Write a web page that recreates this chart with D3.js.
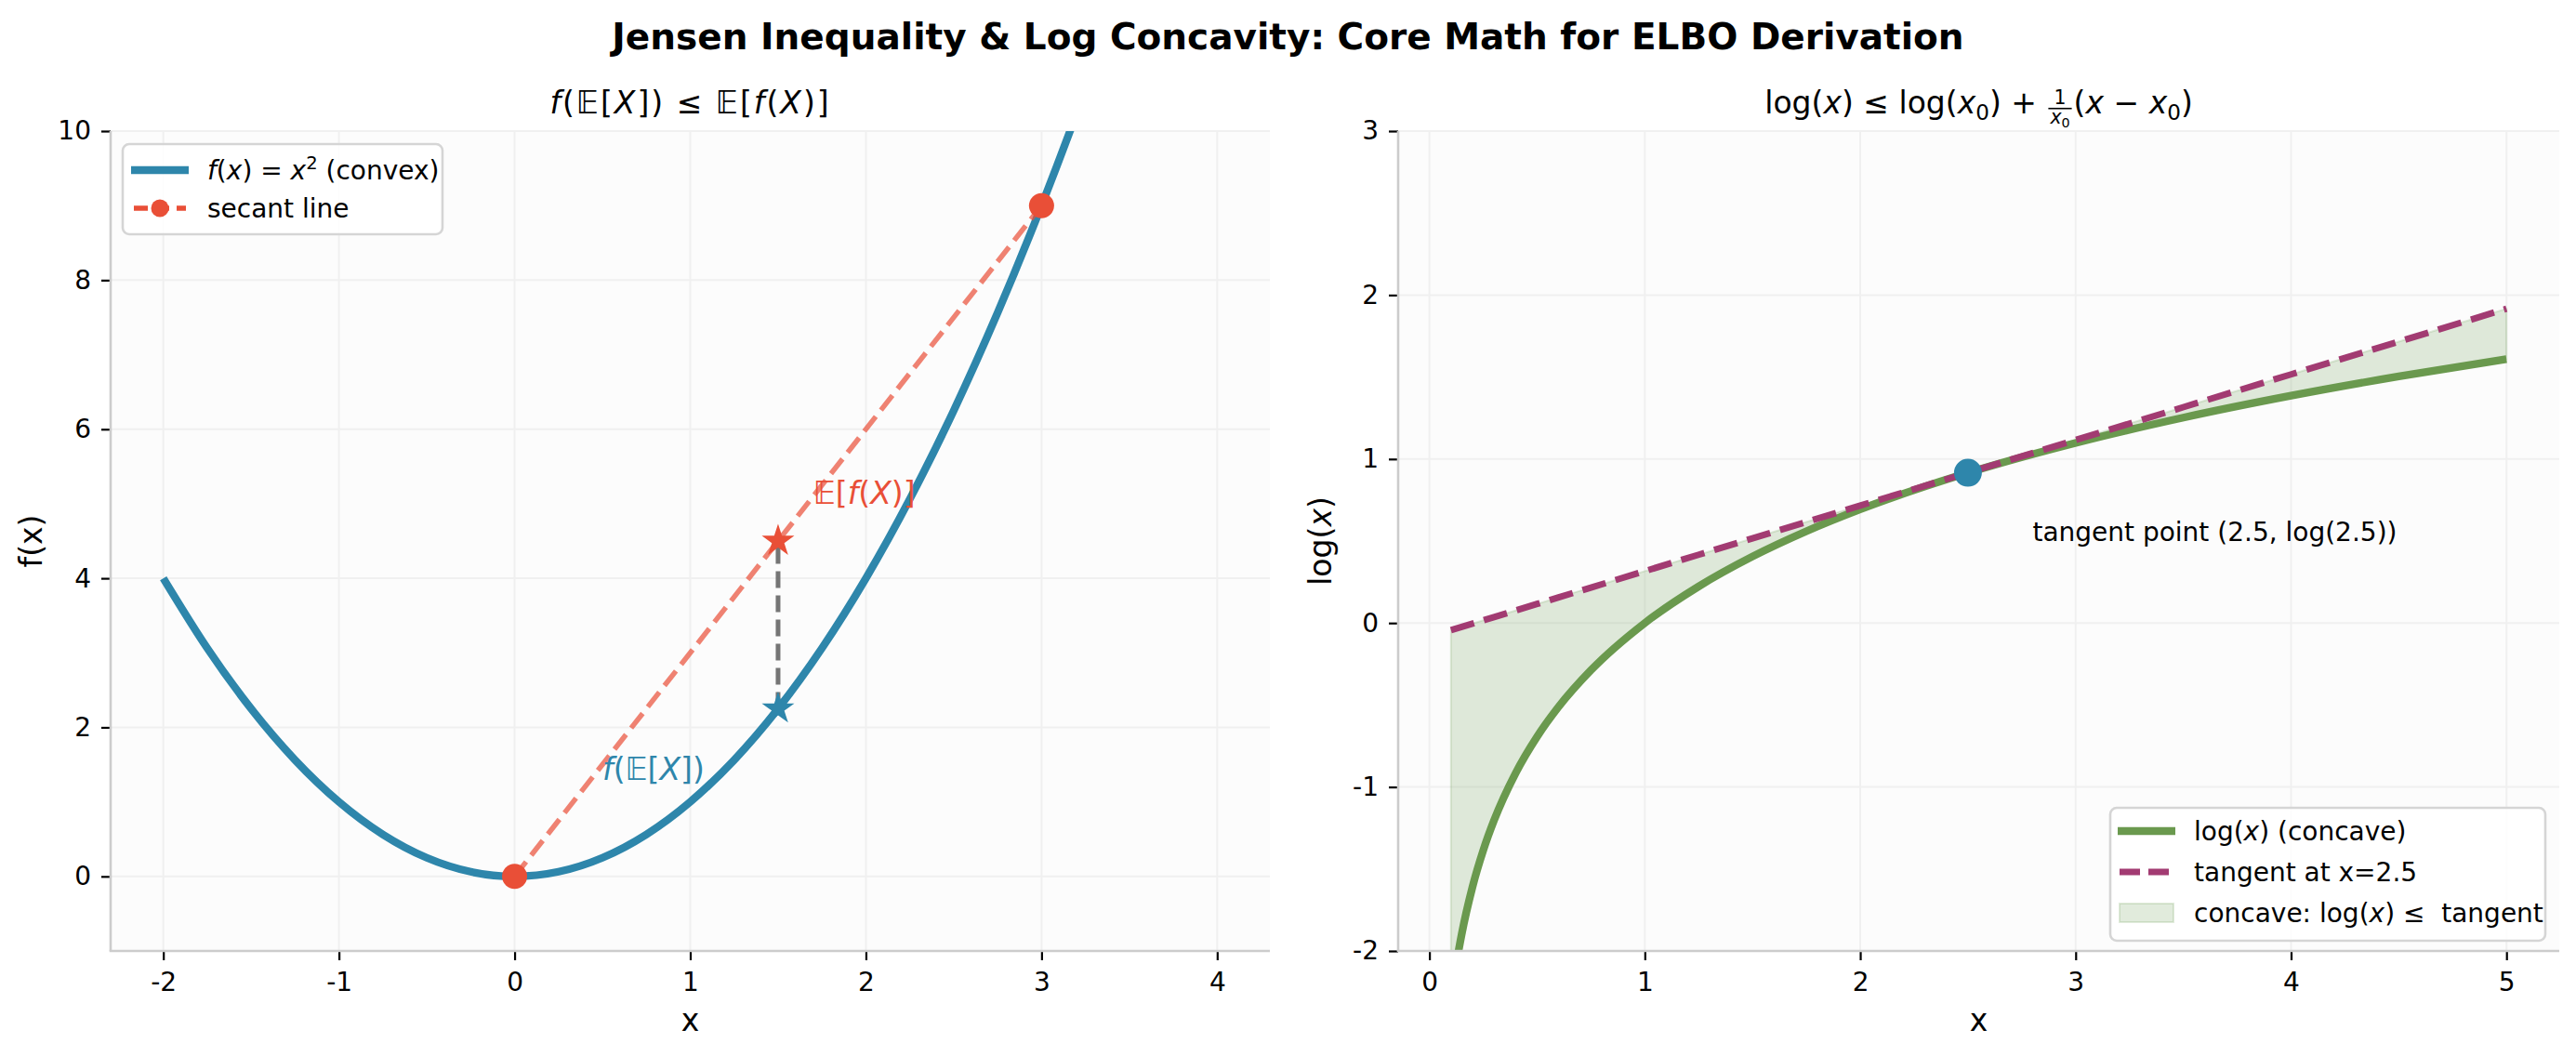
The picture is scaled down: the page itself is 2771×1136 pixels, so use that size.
<!DOCTYPE html>
<html>
<head>
<meta charset="utf-8">
<title>Jensen Inequality & Log Concavity</title>
<script src="https://d3js.org/d3.v7.min.js"></script>
<style>
  body { margin: 0; background: #fff; }
  svg text { font-family: "DejaVu Sans", sans-serif; }
</style>
</head>
<body>
<div id="chart"></div>
<script>
// ---------- data ----------
// left panel : f(x) = x^2 sampled
const parabolaX = [-2, -1.75, -1.5, -1.25, -1, -0.75, -0.5, -0.25, 0, 0.25, 0.5, 0.75, 1,
                   1.25, 1.5, 1.75, 2, 2.25, 2.5, 2.75, 3, 3.25, 3.5, 3.75, 4];
const parabolaY = [4, 3.0625, 2.25, 1.5625, 1, 0.5625, 0.25, 0.0625, 0, 0.0625, 0.25, 0.5625, 1,
                   1.5625, 2.25, 3.0625, 4, 5.0625, 6.25, 7.5625, 9, 10.5625, 12.25, 14.0625, 16];
const secantX = [0, 3];
const secantY = [0, 9];
const meanX = 1.5;
const fOfMean = 2.25;     // f(E[X])
const meanOfF = 4.5;      // E[f(X)]

// right panel : log(x) and its tangent at x0 = 2.5
const logX = [0.1, 0.125, 0.15, 0.2, 0.25, 0.3, 0.4, 0.5, 0.6, 0.75, 1, 1.25, 1.5, 1.75, 2,
              2.5, 3, 3.5, 4, 4.5, 5];
const logY = [-2.3026, -2.0794, -1.8971, -1.6094, -1.3863, -1.2040, -0.9163, -0.6931, -0.5108,
              -0.2877, 0, 0.2231, 0.4055, 0.5596, 0.6931, 0.9163, 1.0986, 1.2528, 1.3863, 1.5041, 1.6094];
const tangentY = [-0.0437, -0.0337, -0.0237, -0.0037, 0.0163, 0.0363, 0.0763, 0.1163, 0.1563,
                  0.2163, 0.3163, 0.4163, 0.5163, 0.6163, 0.7163, 0.9163, 1.1163, 1.3163, 1.5163,
                  1.7163, 1.9163];
const tangentPoint = [2.5, 0.9163];

// ticks
const leftXTicks = [-2, -1, 0, 1, 2, 3, 4];
const leftYTicks = [0, 2, 4, 6, 8, 10];
const rightXTicks = [0, 1, 2, 3, 4, 5];
const rightYTicks = [-2, -1, 0, 1, 2, 3];

// ---------- setup ----------
const W = 2771, H = 1136;
const BLUE = "#2E86AB", RED = "#E94F37", GREEN = "#6A994E", PURPLE = "#A23B72";
const E = "\u{1D53C}";

const svg = d3.select("#chart").append("svg")
    .attr("width", W).attr("height", H);
svg.append("rect").attr("width", W).attr("height", H).attr("fill", "#fff");

const leftBox = { x0: 119, x1: 1366, y0: 141, y1: 1023 };
const rightBox = { x0: 1504, x1: 2753, y0: 141, y1: 1023 };

function fmt(d) { return d < 0 ? "-" + Math.abs(d) : String(d); }

// rich text: chunks are arrays of segments {t, it, sub, sup} or {frac:[numSegs, denSegs]}
function addSegs(text, segs, size) {
  let off = 0;
  segs.forEach(s => {
    const ts = text.append("tspan").text(s.t);
    if (s.it) ts.attr("font-style", "italic");
    let target = 0, fs = size;
    if (s.sub) { target = size * 0.22; fs = size * 0.7; }
    if (s.sup) { target = -size * 0.4; fs = size * 0.7; }
    ts.attr("font-size", fs);
    if (target - off !== 0) ts.attr("dy", target - off);
    off = target;
  });
}

function richText(parent, x, y, chunks, size, fill, anchor, spacing) {
  const g = parent.append("g");
  let cx = 0;
  chunks.forEach(ch => {
    if (ch.frac) {
      const fs = size * 0.62;
      const num = g.append("text").attr("font-size", fs).attr("fill", fill)
          .attr("text-anchor", "middle").attr("y", -size * 0.3);
      addSegs(num, ch.frac[0], fs);
      const den = g.append("text").attr("font-size", fs).attr("fill", fill)
          .attr("text-anchor", "middle").attr("y", size * 0.33);
      addSegs(den, ch.frac[1], fs);
      const w = Math.max(num.node().getComputedTextLength(), den.node().getComputedTextLength()) + 4;
      num.attr("x", cx + w / 2 + 2);
      den.attr("x", cx + w / 2 + 2);
      g.append("line").attr("x1", cx + 2).attr("x2", cx + w + 2)
          .attr("y1", -size * 0.16).attr("y2", -size * 0.16)
          .attr("stroke", fill).attr("stroke-width", 1.6);
      cx += w + 4;
    } else {
      const t = g.append("text").attr("x", cx).attr("font-size", size).attr("fill", fill)
          .attr("xml:space", "preserve").style("white-space", "pre");
      if (spacing) t.attr("letter-spacing", spacing);
      addSegs(t, ch, size);
      cx += t.node().getComputedTextLength();
    }
  });
  const shift = anchor === "middle" ? -cx / 2 : 0;
  g.attr("transform", `translate(${x + shift},${y})`);
  return g;
}

function makePanel(box, xDomain, yDomain, xTicks, yTicks, id) {
  const x = d3.scaleLinear().domain(xDomain).range([box.x0, box.x1]);
  const y = d3.scaleLinear().domain(yDomain).range([box.y1, box.y0]);
  svg.append("rect").attr("x", box.x0).attr("y", box.y0)
      .attr("width", box.x1 - box.x0).attr("height", box.y1 - box.y0)
      .attr("fill", "#fcfcfc");
  svg.append("clipPath").attr("id", id).append("rect")
      .attr("x", box.x0).attr("y", box.y0)
      .attr("width", box.x1 - box.x0).attr("height", box.y1 - box.y0);
  const grid = svg.append("g");
  grid.selectAll(".gx").data(xTicks).enter().append("line")
      .attr("x1", d => x(d)).attr("x2", d => x(d))
      .attr("y1", box.y0).attr("y2", box.y1)
      .attr("stroke", "#f0f0f0").attr("stroke-width", 2);
  grid.selectAll(".gy").data(yTicks).enter().append("line")
      .attr("x1", box.x0).attr("x2", box.x1)
      .attr("y1", d => y(d)).attr("y2", d => y(d))
      .attr("stroke", "#f0f0f0").attr("stroke-width", 2);
  const plot = svg.append("g").attr("clip-path", `url(#${id})`);
  return { x, y, plot };
}

function drawAxes(box, x, y, xTicks, yTicks) {
  const gx = svg.append("g").attr("transform", `translate(0,${box.y1})`)
      .call(d3.axisBottom(x).tickValues(xTicks).tickFormat(fmt).tickSize(10).tickPadding(13));
  const gy = svg.append("g").attr("transform", `translate(${box.x0},0)`)
      .call(d3.axisLeft(y).tickValues(yTicks).tickFormat(fmt).tickSize(10).tickPadding(11));
  [gx, gy].forEach(g => {
    g.select(".domain").remove();
    g.selectAll(".tick line").attr("stroke", "#000").attr("stroke-width", 2.2);
    g.selectAll(".tick text").attr("font-size", 28).attr("fill", "#000")
        .attr("font-family", "DejaVu Sans");
  });
  // spines
  svg.append("line").attr("x1", box.x0).attr("x2", box.x0).attr("y1", box.y0).attr("y2", box.y1)
      .attr("stroke", "#cccccc").attr("stroke-width", 2.6);
  svg.append("line").attr("x1", box.x0 - 1.3).attr("x2", box.x1).attr("y1", box.y1).attr("y2", box.y1)
      .attr("stroke", "#cccccc").attr("stroke-width", 2.6);
}

// ---------- title ----------
svg.append("text").attr("x", W / 2).attr("y", 53).attr("text-anchor", "middle")
    .attr("font-size", 39).attr("font-weight", "bold")
    .text("Jensen Inequality & Log Concavity: Core Math for ELBO Derivation");

// ---------- left panel ----------
const L = makePanel(leftBox, [-2.3, 4.3], [-1, 10], leftXTicks, leftYTicks, "clipL");
const parab = parabolaX.map((d, i) => [d, parabolaY[i]]);

L.plot.append("path").datum(parab)
    .attr("d", d3.line().x(d => L.x(d[0])).y(d => L.y(d[1])).curve(d3.curveMonotoneX))
    .attr("fill", "none").attr("stroke", BLUE).attr("stroke-width", 8.3);

L.plot.append("line")
    .attr("x1", L.x(secantX[0])).attr("y1", L.y(secantY[0]))
    .attr("x2", L.x(secantX[1])).attr("y2", L.y(secantY[1]))
    .attr("stroke", RED).attr("stroke-opacity", 0.7).attr("stroke-width", 5.5)
    .attr("stroke-dasharray", "20,9");

L.plot.append("line")
    .attr("x1", L.x(meanX)).attr("x2", L.x(meanX))
    .attr("y1", L.y(fOfMean)).attr("y2", L.y(meanOfF))
    .attr("stroke", "#666").attr("stroke-opacity", 0.9).attr("stroke-width", 5)
    .attr("stroke-dasharray", "18,8");

L.plot.selectAll(".end").data(secantX).enter().append("circle")
    .attr("cx", d => L.x(d)).attr("cy", (d, i) => L.y(secantY[i]))
    .attr("r", 13.5).attr("fill", RED);

const star = d3.symbol().type(d3.symbolStar).size(380);
L.plot.append("path").attr("d", star)
    .attr("transform", `translate(${L.x(meanX)},${L.y(meanOfF)})`).attr("fill", RED);
L.plot.append("path").attr("d", star)
    .attr("transform", `translate(${L.x(meanX)},${L.y(fOfMean)})`).attr("fill", BLUE);

richText(svg, L.x(1.7), L.y(5.0),
    [[{ t: E + "[" }, { t: "f", it: true }, { t: "(" }, { t: "X", it: true }, { t: ")]" }]], 33, RED);
richText(svg, L.x(0.5), L.y(1.3),
    [[{ t: "f", it: true }, { t: "(" + E + "[" }, { t: "X", it: true }, { t: "])" }]], 33, BLUE);

drawAxes(leftBox, L.x, L.y, leftXTicks, leftYTicks);

richText(svg, (leftBox.x0 + leftBox.x1) / 2, 122,
    [[{ t: "f", it: true }, { t: "(" + E + "[" }, { t: "X", it: true }, { t: "]) \u2264 " + E + "[" },
      { t: "f", it: true }, { t: "(" }, { t: "X", it: true }, { t: ")]" }]], 33, "#000", "middle", 2);

svg.append("text").attr("x", (leftBox.x0 + leftBox.x1) / 2).attr("y", 1109)
    .attr("text-anchor", "middle").attr("font-size", 33).text("x");
svg.append("text").attr("transform", `translate(45,${(leftBox.y0 + leftBox.y1) / 2}) rotate(-90)`)
    .attr("text-anchor", "middle").attr("font-size", 33).text("f(x)");

// left legend
const lg = svg.append("g");
lg.append("rect").attr("x", 132).attr("y", 155).attr("width", 344).attr("height", 97)
    .attr("rx", 7).attr("fill", "#fff").attr("fill-opacity", 0.85)
    .attr("stroke", "#d5d5d5").attr("stroke-width", 2.6);
lg.append("line").attr("x1", 141).attr("x2", 203).attr("y1", 183).attr("y2", 183)
    .attr("stroke", BLUE).attr("stroke-width", 8.3);
lg.append("line").attr("x1", 144).attr("x2", 200).attr("y1", 224).attr("y2", 224)
    .attr("stroke", RED).attr("stroke-width", 5.5).attr("stroke-dasharray", "15,8");
lg.append("circle").attr("cx", 172).attr("cy", 224).attr("r", 9.5).attr("fill", RED);
richText(lg, 223, 193,
    [[{ t: "f", it: true }, { t: "(" }, { t: "x", it: true }, { t: ") = " }, { t: "x", it: true },
      { t: "2", sup: true }, { t: " (convex)" }]], 28, "#000");
lg.append("text").attr("x", 223).attr("y", 234).attr("font-size", 28).text("secant line");

// ---------- right panel ----------
const R = makePanel(rightBox, [-0.145, 5.245], [-2, 3], rightXTicks, rightYTicks, "clipR");
const logPts = logX.map((d, i) => [d, logY[i], tangentY[i]]);

R.plot.append("path").datum(logPts)
    .attr("d", d3.area().x(d => R.x(d[0])).y0(d => R.y(d[1])).y1(d => R.y(d[2])).curve(d3.curveMonotoneX))
    .attr("fill", GREEN).attr("fill-opacity", 0.2)
    .attr("stroke", GREEN).attr("stroke-opacity", 0.2).attr("stroke-width", 2);

R.plot.append("path").datum(logPts)
    .attr("d", d3.line().x(d => R.x(d[0])).y(d => R.y(d[1])).curve(d3.curveMonotoneX))
    .attr("fill", "none").attr("stroke", GREEN).attr("stroke-width", 8.3);

R.plot.append("path").datum(logPts)
    .attr("d", d3.line().x(d => R.x(d[0])).y(d => R.y(d[2])))
    .attr("fill", "none").attr("stroke", PURPLE).attr("stroke-width", 7)
    .attr("stroke-dasharray", "26,11");

R.plot.append("circle").attr("cx", R.x(tangentPoint[0])).attr("cy", R.y(tangentPoint[1]))
    .attr("r", 15).attr("fill", BLUE);

svg.append("text").attr("x", R.x(2.8)).attr("y", R.y(0.5)).attr("font-size", 28)
    .text("tangent point (2.5, log(2.5))");

drawAxes(rightBox, R.x, R.y, rightXTicks, rightYTicks);

richText(svg, (rightBox.x0 + rightBox.x1) / 2, 122, [
    [{ t: "log(" }, { t: "x", it: true }, { t: ") \u2264 log(" }, { t: "x", it: true }, { t: "0", sub: true },
     { t: ") + " }],
    { frac: [[{ t: "1" }], [{ t: "x", it: true }, { t: "0", sub: true }]] },
    [{ t: "(" }, { t: "x", it: true }, { t: " \u2212 " }, { t: "x", it: true }, { t: "0", sub: true }, { t: ")" }]
  ], 33, "#000", "middle");

svg.append("text").attr("x", (rightBox.x0 + rightBox.x1) / 2).attr("y", 1109)
    .attr("text-anchor", "middle").attr("font-size", 33).text("x");
const ylab = svg.append("text")
    .attr("transform", `translate(1432,${(rightBox.y0 + rightBox.y1) / 2}) rotate(-90)`)
    .attr("text-anchor", "middle").attr("font-size", 33);
ylab.append("tspan").text("log(");
ylab.append("tspan").attr("font-style", "italic").text("x");
ylab.append("tspan").text(")");

// right legend
const rg = svg.append("g");
rg.append("rect").attr("x", 2270).attr("y", 869).attr("width", 468).attr("height", 143)
    .attr("rx", 7).attr("fill", "#fff").attr("fill-opacity", 0.85)
    .attr("stroke", "#d5d5d5").attr("stroke-width", 2.6);
rg.append("line").attr("x1", 2278).attr("x2", 2340).attr("y1", 894).attr("y2", 894)
    .attr("stroke", GREEN).attr("stroke-width", 8.3);
rg.append("line").attr("x1", 2280).attr("x2", 2340).attr("y1", 938).attr("y2", 938)
    .attr("stroke", PURPLE).attr("stroke-width", 7).attr("stroke-dasharray", "22,9");
rg.append("rect").attr("x", 2280).attr("y", 972).attr("width", 58).attr("height", 20)
    .attr("fill", GREEN).attr("fill-opacity", 0.2)
    .attr("stroke", GREEN).attr("stroke-opacity", 0.2).attr("stroke-width", 2);
richText(rg, 2360, 904, [[{ t: "log(" }, { t: "x", it: true }, { t: ") (concave)" }]], 28, "#000");
rg.append("text").attr("x", 2360).attr("y", 948).attr("font-size", 28).text("tangent at x=2.5");
richText(rg, 2360, 992, [[{ t: "concave: log(" }, { t: "x", it: true }, { t: ") \u2264  tangent" }]], 28, "#000");
</script>
</body>
</html>
